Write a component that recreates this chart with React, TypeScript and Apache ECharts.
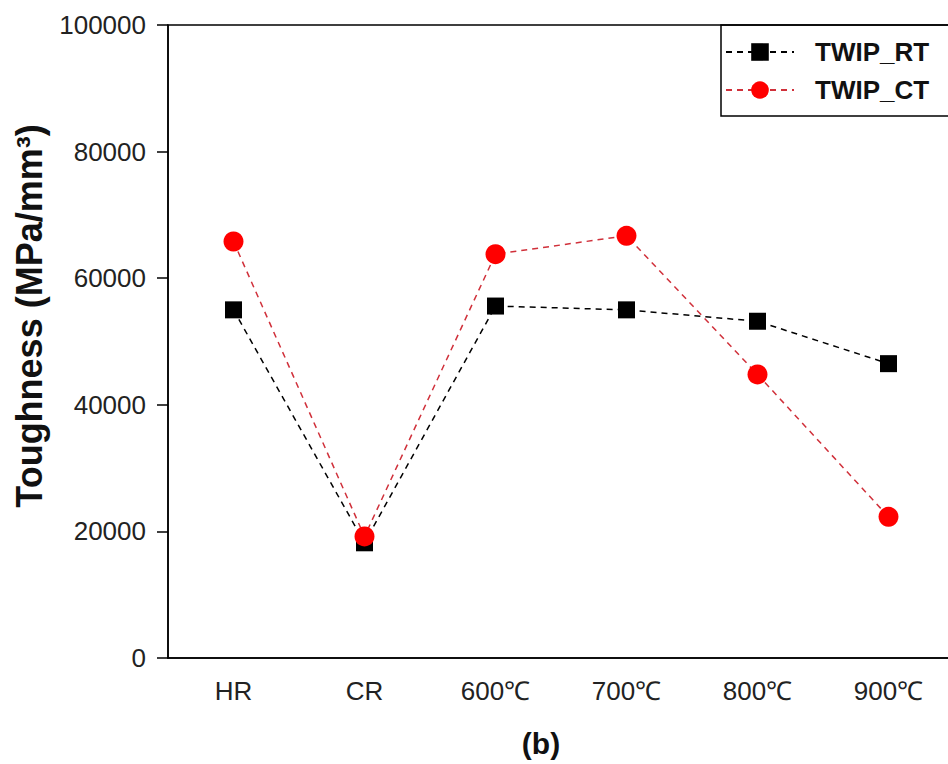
import React, { useEffect, useRef } from "react";
import * as echarts from "echarts";

const categories = ["HR", "CR", "600℃", "700℃", "800℃", "900℃"];
const twipRT = [55000, 18200, 55600, 55000, 53200, 46500];
const twipCT = [65800, 19200, 63800, 66700, 44800, 22300];
const seriesNames = ["TWIP_RT", "TWIP_CT"];
const yTicks = { min: 0, max: 100000, interval: 20000 };
const yTitle = "Toughness (MPa/mm³)";
const panelLabel = "(b)";

const FONT = "Arial, 'Liberation Sans', sans-serif";

export default function App() {
  const ref = useRef<HTMLDivElement>(null);
  useEffect(() => {
    if (!ref.current) return;
    const chart = echarts.init(ref.current, null, { renderer: "svg" });
    chart.setOption({
      animation: false,
      backgroundColor: "#ffffff",
      grid: {
        left: 168,
        top: 25,
        height: 633,
        width: 786,
        outerBoundsMode: "none",
        containLabel: false,
        show: true,
        borderColor: "#000",
        borderWidth: 1.5,
        backgroundColor: "transparent",
      },
      legend: {
        data: seriesNames,
        orient: "vertical",
        left: 721,
        top: 25,
        itemWidth: 68,
        itemHeight: 22,
        itemGap: 12,
        borderWidth: 0,
        padding: [14, 4, 14, 4],
        textStyle: {
          fontFamily: FONT,
          fontSize: 26,
          fontWeight: "bold",
          color: "#111",
          padding: [0, 0, 0, 16],
        },
      },
      xAxis: {
        type: "category",
        data: categories,
        boundaryGap: true,
        axisLine: { lineStyle: { color: "#000", width: 1.5 } },
        axisTick: { alignWithLabel: true, length: 12, lineStyle: { color: "#000", width: 1.5 } },
        axisLabel: {
          fontFamily: FONT,
          fontSize: 26,
          color: "#222",
          margin: 20,
        },
        splitLine: { show: false },
      },
      yAxis: {
        type: "value",
        min: yTicks.min,
        max: yTicks.max,
        interval: yTicks.interval,
        axisLine: { show: true, lineStyle: { color: "#000", width: 1.5 } },
        axisTick: { show: true, length: 11, lineStyle: { color: "#000", width: 1.5 } },
        axisLabel: {
          fontFamily: FONT,
          fontSize: 26,
          color: "#222",
          margin: 22,
          formatter: (v: number) => String(v),
        },
        splitLine: { show: false },
      },
      graphic: [
        {
          type: "rect",
          shape: { x: 721, y: 25, width: 260, height: 91 },
          style: { fill: "none", stroke: "#000", lineWidth: 1.5 },
          z: 10,
        },
        {
          type: "text",
          x: 29,
          y: 316,
          rotation: Math.PI / 2,
          style: {
            text: yTitle,
            fontFamily: FONT,
            fontSize: 36,
            fontWeight: "bold",
            fill: "#111",
            align: "center",
            verticalAlign: "middle",
          },
        },
        {
          type: "text",
          x: 541,
          y: 743,
          style: {
            text: panelLabel,
            fontFamily: FONT,
            fontSize: 30,
            fontWeight: "bold",
            fill: "#111",
            align: "center",
            verticalAlign: "middle",
          },
        },
      ],
      series: [
        {
          name: seriesNames[0],
          type: "line",
          data: twipRT,
          symbol: "rect",
          symbolSize: 17,
          itemStyle: { color: "#000" },
          lineStyle: { color: "#000", width: 1.5, type: [6, 5] },
        },
        {
          name: seriesNames[1],
          type: "line",
          data: twipCT,
          symbol: "circle",
          symbolSize: 20,
          itemStyle: { color: "#ff0000" },
          lineStyle: { color: "#d0303a", width: 1.5, type: [6, 5] },
        },
      ],
    });
    return () => chart.dispose();
  }, []);
  return (
    <div
      ref={ref}
      style={{ position: "absolute", left: 0, top: 0, width: 948, height: 764 }}
    />
  );
}
